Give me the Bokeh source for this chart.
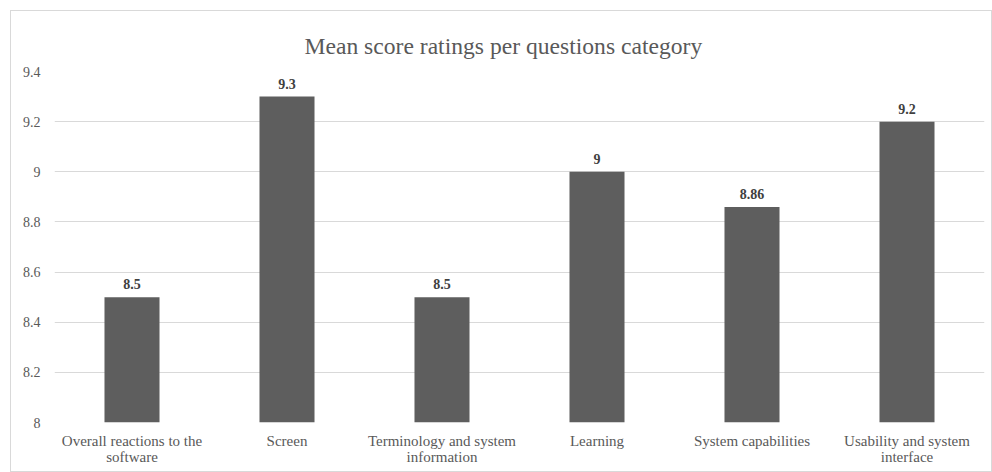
from bokeh.plotting import figure
from bokeh.models import (ColumnDataSource, FixedTicker, CustomJSTickFormatter, LabelSet,
                          LinearAxis, Range1d)
from bokeh.embed import file_html
from bokeh.resources import INLINE

categories = ["Overall reactions to the software", "Screen", "Terminology and system information",
              "Learning", "System capabilities", "Usability and system interface"]
label_line1 = ["Overall reactions to the", "Screen", "Terminology and system",
               "Learning", "System capabilities", "Usability and system"]
label_line2 = ["software", "", "information", "", "", "interface"]
values = [8.5, 9.3, 8.5, 9.0, 8.86, 9.2]
value_labels = ["8.5", "9.3", "8.5", "9", "8.86", "9.2"]
y_ticks = [8.0, 8.2, 8.4, 8.6, 8.8, 9.0, 9.2, 9.4]
y_min, y_max = 8.0, 9.4

FONT = "Liberation Serif"

n = len(categories)
pos = [i + 0.5 for i in range(n)]
src = ColumnDataSource(dict(x=pos, cat=categories, val=values, lab=value_labels))

p = figure(x_range=Range1d(0, n), y_range=(y_min, y_max), width=982, height=462,
           output_backend="svg", toolbar_location=None, margin=(10, 0, 0, 10),
           min_border_left=43, min_border_right=9, min_border_top=60, min_border_bottom=51,
           title="Mean score ratings per questions category")
p.styles = {"border": "1px solid #d9d9d9", "box-sizing": "border-box"}

p.vbar(x="x", top="val", bottom=y_min, width=0.355, source=src,
       fill_color="#5e5e5e", line_color=None)

p.add_layout(LabelSet(x="x", y="val", text="lab", source=src, text_align="center",
                      text_baseline="bottom", y_offset=8, text_font=FONT,
                      text_font_size="14px", text_font_style="bold", text_color="#404040"))

# x axis: first line of every category label
ax1 = p.xaxis[0]
ax1.ticker = FixedTicker(ticks=pos)
ax1.formatter = CustomJSTickFormatter(args=dict(m={str(x): t for x, t in zip(pos, label_line1)}),
                                      code="return m[String(tick)] || '';")
# second axis below: the wrapped second lines
pos2 = [x for x, t in zip(pos, label_line2) if t]
ax2 = LinearAxis(ticker=FixedTicker(ticks=pos2))
ax2.formatter = CustomJSTickFormatter(args=dict(m={str(x): t for x, t in zip(pos, label_line2) if t}),
                                      code="return m[String(tick)] || '';")
p.add_layout(ax2, "below")

p.title.text_font = FONT
p.title.text_font_size = "23.6px"
p.title.text_font_style = "normal"
p.title.text_color = "#595959"
p.title.align = "left"
p.title.offset = 250
p.title.standoff = 25

p.outline_line_color = None
p.xgrid.grid_line_color = None
p.ygrid.grid_line_color = "#d9d9d9"
p.ygrid.ticker = FixedTicker(ticks=y_ticks)

p.yaxis.ticker = FixedTicker(ticks=y_ticks)
p.yaxis.formatter = CustomJSTickFormatter(code="return tick.toFixed(1).replace(/\\.0$/, '');")
for ax in (ax1, p.yaxis[0], ax2):
    ax.axis_line_color = None
    ax.major_tick_line_color = None
    ax.minor_tick_line_color = None
    ax.major_tick_out = 0
    ax.major_tick_in = 0
    ax.minor_tick_out = 0
    ax.minor_tick_in = 0
    ax.major_label_text_font = FONT
    ax.major_label_text_font_size = "14px"
    ax.major_label_text_color = "#595959"
p.yaxis.major_label_standoff = 14
ax1.major_label_text_font_size = "15px"
ax1.major_label_standoff = 10
ax2.major_label_text_font_size = "15px"
ax2.major_label_standoff = -3

open("out.html", "w").write(file_html(p, INLINE))
